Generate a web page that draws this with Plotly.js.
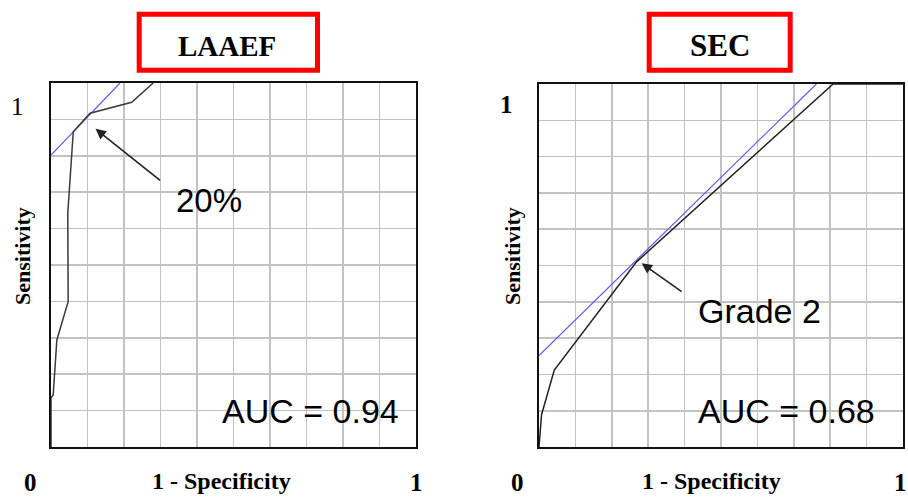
<!DOCTYPE html>
<html>
<head>
<meta charset="utf-8">
<script src="https://cdn.plot.ly/plotly-3.0.1.min.js"></script>
<style>html,body{margin:0;padding:0;background:#fff;}#chart{width:908px;height:497px;}</style>
</head>
<body>
<div id="chart"></div>
<script>
// ---- Data ----
const panelTitles = ["LAAEF", "SEC"];
const aucLabels = ["AUC = 0.94", "AUC = 0.68"];
const cutoffLabels = ["20%", "Grade 2"];

// LAAEF ROC curve (1 - specificity, sensitivity)
const laaefFPR = [0, 0, 0.006, 0.016, 0.047, 0.046, 0.061, 0.107, 0.221, 0.280];
const laaefTPR = [0, 0.135, 0.143, 0.294, 0.399, 0.643, 0.866, 0.917, 0.947, 1.0];
// LAAEF tangent line
const laaefTanX = [0, 0.189];
const laaefTanY = [0.802, 1.0];
// LAAEF cut-off point (arrow head) and arrow tail
const laaefCut = [0.122, 0.874];
const laaefTail = [0.303, 0.729];

// SEC ROC curve
const secFPR = [0, 0.007, 0.042, 0.268, 0.808, 1.0];
const secTPR = [0, 0.089, 0.212, 0.510, 1.0, 1.0];
// SEC tangent line
const secTanX = [0, 0.762];
const secTanY = [0.252, 1.0];
const secCut = [0.282, 0.506];
const secTail = [0.396, 0.425];

const axisTickLabels = ["0", "1"];
const xAxisTitle = "1 - Specificity";
const yAxisTitle = "Sensitivity";

// ---- Figure ----
const W = 908, H = 497;
const px = v => v / W;
const py = v => 1 - v / H;

const curveStyle = {color: "#3a3a3a", width: 1.5};
const tanStyle = {color: "#5a5af0", width: 1.2};

const traces = [
  {x: laaefTanX, y: laaefTanY, xaxis: "x", yaxis: "y", mode: "lines", line: tanStyle, hoverinfo: "skip"},
  {x: laaefFPR, y: laaefTPR, xaxis: "x", yaxis: "y", mode: "lines", line: curveStyle, cliponaxis: false},
  {x: secTanX, y: secTanY, xaxis: "x2", yaxis: "y2", mode: "lines", line: tanStyle, hoverinfo: "skip"},
  {x: secFPR, y: secTPR, xaxis: "x2", yaxis: "y2", mode: "lines", line: {color: "#222", width: 1.5}, cliponaxis: false}
];

const axBase = {
  range: [0, 1], dtick: 0.1, tick0: 0,
  showgrid: true, gridcolor: "#c2c2c2", gridwidth: 1.6,
  showline: true, mirror: true, linecolor: "#111", linewidth: 2,
  zeroline: false, ticks: "", showticklabels: false, fixedrange: true
};

const serif = "Liberation Serif, Times New Roman, serif";
const sans = "Liberation Sans, Arial, sans-serif";

const annotations = [];
function txt(text, x, y, size, family, bold, extra) {
  annotations.push(Object.assign({
    text: bold ? "<b>" + text + "</b>" : text,
    xref: "paper", yref: "paper", x: px(x), y: py(y),
    xanchor: "center", yanchor: "middle", showarrow: false,
    font: {family: family, size: size, color: "#000"}
  }, extra || {}));
}
// Panel titles
txt(panelTitles[0], 227, 46, 29, serif, true);
txt(panelTitles[1], 720, 46, 31, serif, true);
// Axis titles
txt(xAxisTitle, 221, 481, 24, serif, true);
txt(xAxisTitle, 711, 481, 24, serif, true);
txt(yAxisTitle, 22, 256, 22, serif, true, {textangle: -90});
txt(yAxisTitle, 512, 256, 22, serif, true, {textangle: -90});
// Tick labels 0 and 1
txt(axisTickLabels[1], 17, 106, 25, serif, false);
txt(axisTickLabels[0], 30, 482, 25, serif, true);
txt(axisTickLabels[1], 416, 482, 25, serif, true);
txt(axisTickLabels[1], 506, 105, 25, serif, true);
txt(axisTickLabels[0], 517, 482, 25, serif, true);
txt(axisTickLabels[1], 900, 482, 25, serif, true);

// In-panel texts (data coordinates)
function dtxt(text, xr, yr, x, y, size) {
  annotations.push({text: text, xref: xr, yref: yr, x: x, y: y,
    xanchor: "center", yanchor: "middle", showarrow: false,
    font: {family: sans, size: size, color: "#000"}});
}
dtxt(cutoffLabels[0], "x", "y", 0.433, 0.676, 33);
dtxt(aucLabels[0], "x", "y", 0.712, 0.100, 34);
dtxt(cutoffLabels[1], "x2", "y2", 0.607, 0.376, 34);
dtxt(aucLabels[1], "x2", "y2", 0.681, 0.100, 34);

// Arrows
function arrow(xr, yr, head, tail) {
  annotations.push({text: "", xref: xr, yref: yr, x: head[0], y: head[1],
    axref: xr, ayref: yr, ax: tail[0], ay: tail[1],
    showarrow: true, arrowhead: 2, arrowsize: 1.3, arrowwidth: 1.6,
    arrowcolor: "#222", standoff: 0});
}
arrow("x", "y", laaefCut, laaefTail);
arrow("x2", "y2", secCut, secTail);

const shapes = [
  {type: "rect", xref: "paper", yref: "paper", x0: px(139.2), x1: px(317.5), y0: py(14.2), y1: py(70.2),
   line: {color: "#ff0000", width: 5}},
  {type: "rect", xref: "paper", yref: "paper", x0: px(649.2), x1: px(790.2), y0: py(14.2), y1: py(70.2),
   line: {color: "#ff0000", width: 5}}
];

const layout = {
  width: W, height: H,
  margin: {l: 0, r: 0, t: 0, b: 0},
  paper_bgcolor: "#fff", plot_bgcolor: "#fff",
  showlegend: false,
  xaxis: Object.assign({}, axBase, {domain: [px(51), px(416)], anchor: "y"}),
  yaxis: Object.assign({}, axBase, {domain: [py(447), py(83)], anchor: "x"}),
  xaxis2: Object.assign({}, axBase, {domain: [px(539), px(903)], anchor: "y2"}),
  yaxis2: Object.assign({}, axBase, {domain: [py(447), py(84)], anchor: "x2"}),
  annotations: annotations,
  shapes: shapes
};

Plotly.newPlot("chart", traces, layout, {displayModeBar: false, staticPlot: true});
</script>
</body>
</html>
